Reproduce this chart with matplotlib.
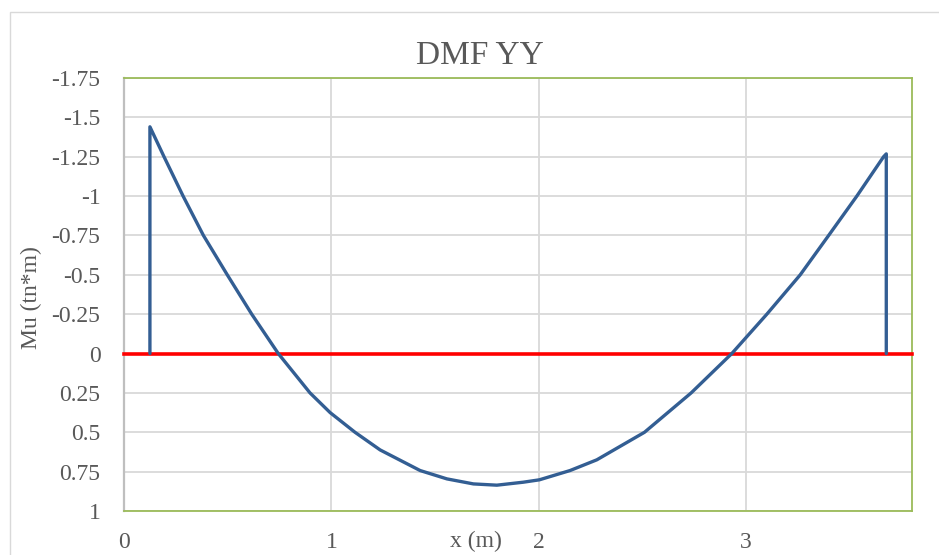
import matplotlib
matplotlib.use('Agg')
import matplotlib.pyplot as plt
from matplotlib.patches import Rectangle

# moment diagram points (x in m, Mu in tn*m)
x_vals = [0.125, 0.125, 0.193, 0.285, 0.383, 0.498, 0.616, 0.744, 0.897,
          0.994, 1.114, 1.235, 1.428, 1.557, 1.685, 1.798, 1.926, 2.003,
          2.151, 2.280, 2.51, 2.735, 2.931, 3.100, 3.261, 3.398, 3.534,
          3.663, 3.676, 3.676]
mu_vals = [0.0, -1.44, -1.25, -1.0, -0.75, -0.5, -0.25, 0.0, 0.25,
           0.375, 0.5, 0.612, 0.743, 0.796, 0.828, 0.836, 0.817, 0.802,
           0.743, 0.675, 0.5, 0.25, 0.0, -0.25, -0.5, -0.75, -1.0,
           -1.25, -1.268, 0.0]

zero_x = [0, 3.8]
zero_y = [0, 0]

y_ticks = [-1.75, -1.5, -1.25, -1, -0.75, -0.5, -0.25, 0, 0.25, 0.5, 0.75, 1]
y_labels = ['-1.75', '-1.5', '-1.25', '-1', '-0.75', '-0.5', '-0.25', '0',
            '0.25', '0.5', '0.75', '1']
x_ticks = [0, 1, 2, 3]

plt.rcParams['font.family'] = ['Liberation Serif', 'DejaVu Serif']
grey = '#595959'

fig = plt.figure(figsize=(9.39, 5.55), dpi=100)
ax = fig.add_axes([124/939, 44/555, 788/939, 433/555])

ax.plot(zero_x, zero_y, color='#FF0000', lw=2.6, zorder=3, clip_on=False)
ax.plot(x_vals, mu_vals, color='#335E93', lw=2.4, zorder=4,
        solid_joinstyle='round', solid_capstyle='round')

ax.set_xlim(0, 3.8)
ax.set_ylim(1, -1.75)
ax.set_yticks(y_ticks)
ax.set_yticklabels(y_labels)
ax.set_xticks(x_ticks)
ax.tick_params(length=0, labelsize=17, colors=grey)
ax.tick_params(axis='y', pad=17)
ax.tick_params(axis='x', pad=15)
ax.grid(True, color='#D9D9D9', lw=1.3)
ax.set_axisbelow(True)

for side in ['top', 'right', 'bottom']:
    ax.spines[side].set_color('#9BBB59')
    ax.spines[side].set_linewidth(1.3)
ax.spines['left'].set_color('#BFBFBF')
ax.spines['left'].set_linewidth(1.6)

fig.text(480/939, 1 - 56/555, 'DMF YY', ha='center', va='center',
         fontsize=24, color=grey)
fig.text(31/939, 1 - 298/555, 'Mu (tn*m)', ha='center', va='center',
         rotation=90, fontsize=17, color=grey)
fig.text(476/939, 1 - 541/555, 'x (m)', ha='center', va='center',
         fontsize=17, color=grey)

# chart area border
fig.patches.append(Rectangle((10/939, -0.05), 1.0, (555 - 12)/555 + 0.05,
                             transform=fig.transFigure, fill=False,
                             edgecolor='#D9D9D9', lw=1.0))

fig.savefig('out.png', dpi=100)
